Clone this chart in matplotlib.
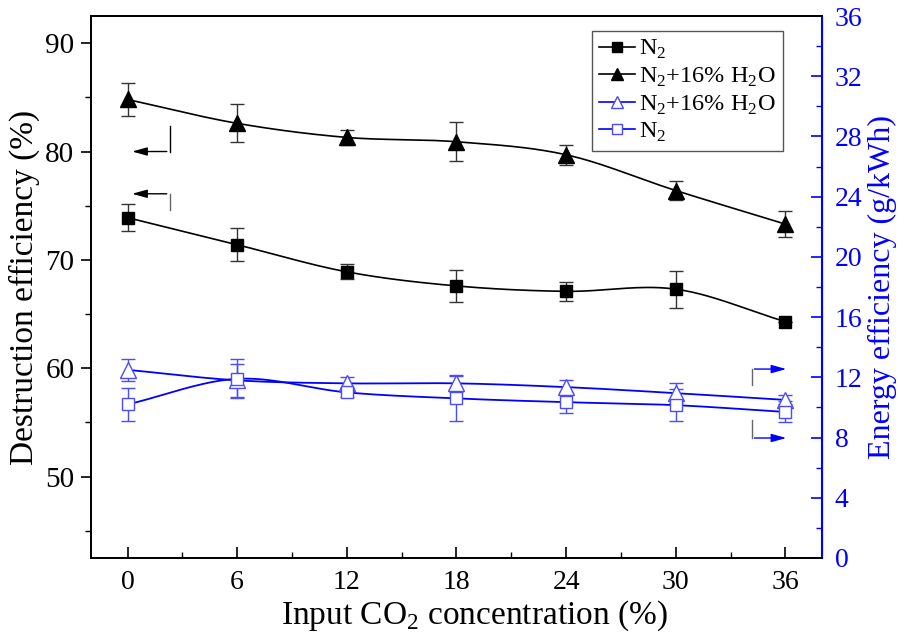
import numpy as np
import matplotlib
matplotlib.use("Agg")
import matplotlib.pyplot as plt
from matplotlib.lines import Line2D

plt.rcParams['font.family'] = ['Liberation Serif', 'DejaVu Serif']
plt.rcParams['mathtext.fontset'] = 'custom'
plt.rcParams['mathtext.rm'] = 'Liberation Serif'

# datos
co2 = [0, 6, 12, 18, 24, 30, 36]

de_n2 = [73.9, 71.4, 68.9, 67.6, 67.1, 67.3, 64.3]
de_n2_err = [1.25, 1.5, 0.7, 1.5, 0.9, 1.7, 0.0]
de_h2o = [84.8, 82.6, 81.3, 80.9, 79.7, 76.4, 73.3]
de_h2o_err = [1.5, 1.75, 0.7, 1.8, 0.9, 0.9, 1.2]

ee_h2o = [12.5, 11.8, 11.6, 11.6, 11.35, 10.95, 10.5]
ee_h2o_err = [0.75, 1.1, 0.4, 0.55, 0.5, 0.65, 0.3]
ee_n2 = [10.2, 11.9, 11.0, 10.6, 10.35, 10.15, 9.7]
ee_n2_err = [1.1, 1.3, 0.3, 1.5, 0.7, 1.05, 0.7]

lab_n2 = r'N$_{\rm 2}$'
lab_h2o = r'N$_{\rm 2}$+16% H$_{\rm 2}$O'


def spline(x, y, n=200):
    # curva suave (tipo Catmull-Rom), solo para dibujar la linea
    x = np.asarray(x, float)
    y = np.asarray(y, float)
    k = len(x)
    d = np.zeros(k)
    d[1:-1] = (y[2:] - y[:-2]) / (x[2:] - x[:-2])
    d[0] = (y[1] - y[0]) / (x[1] - x[0])
    d[-1] = (y[-1] - y[-2]) / (x[-1] - x[-2])
    xs = np.linspace(x[0], x[-1], n)
    idx = np.clip(np.searchsorted(x, xs) - 1, 0, k - 2)
    h = x[idx + 1] - x[idx]
    t = (xs - x[idx]) / h
    h00 = 2 * t**3 - 3 * t**2 + 1
    h10 = t**3 - 2 * t**2 + t
    h01 = -2 * t**3 + 3 * t**2
    h11 = t**3 - t**2
    ys = h00 * y[idx] + h10 * h * d[idx] + h01 * y[idx + 1] + h11 * h * d[idx + 1]
    return xs, ys


fig = plt.figure(figsize=(9.07, 6.41), dpi=100)
ax = fig.add_axes([0.1003, 0.1295, 0.8060, 0.8455])
ax2 = ax.twinx()

blue = '#0000ff'
lblue = '#4a4aff'

# eje izquierdo
for y, e, m in [(de_n2, de_n2_err, 's'), (de_h2o, de_h2o_err, '^')]:
    xs, ys = spline(co2, y)
    ax.plot(xs, ys, color='black', lw=1.2, zorder=2)
    ax.errorbar(co2, y, yerr=e, fmt='none', ecolor='#333333', elinewidth=1.0,
                capsize=5, capthick=1.0, zorder=3)
    ax.plot(co2, y, linestyle='none', marker=m, color='black',
            markersize=11 if m == '^' else 8.5, zorder=4)

# eje derecho
for y, e, m in [(ee_h2o, ee_h2o_err, '^'), (ee_n2, ee_n2_err, 's')]:
    xs, ys = spline(co2, y)
    ax2.plot(xs, ys, color=blue, lw=1.3, zorder=2)
    ax2.errorbar(co2, y, yerr=e, fmt='none', ecolor=lblue, elinewidth=1.0,
                 capsize=5, capthick=1.0, zorder=3)
    ax2.plot(co2, y, linestyle='none', marker=m, markerfacecolor='white',
             markeredgecolor=lblue, markeredgewidth=1.0,
             markersize=11 if m == '^' else 8.5, zorder=4)

# flechas indicando el eje
arr = dict(arrowstyle='-|>,head_length=0.9,head_width=0.25', lw=1.0)
ax.plot([2.3, 2.3], [82.4, 80.0], color='black', lw=1.0)
ax.annotate('', xy=(0.1, 80.0), xytext=(2.3, 80.0),
            arrowprops=dict(color='black', **arr))
ax.plot([2.3, 2.3], [76.1, 74.6], color='#666666', lw=1.0)
ax.annotate('', xy=(0.1, 76.1), xytext=(2.3, 76.1),
            arrowprops=dict(color='black', **arr))
ax2.plot([34.15, 34.15], [12.55, 11.5], color='#666666', lw=1.0)
ax2.annotate('', xy=(36.2, 12.55), xytext=(34.15, 12.55),
             arrowprops=dict(color=blue, **arr))
ax2.plot([34.15, 34.15], [9.16, 7.97], color='#666666', lw=1.0)
ax2.annotate('', xy=(36.2, 7.97), xytext=(34.15, 7.97),
             arrowprops=dict(color=blue, **arr))

ax.set_xlim(-2, 38)
ax.set_ylim(42.5, 92.5)
ax2.set_ylim(0, 36)
ax.set_xticks(co2)
ax.set_xticks(np.arange(3, 36, 6), minor=True)
ax.set_yticks([50, 60, 70, 80, 90])
ax.set_yticks([45, 55, 65, 75, 85], minor=True)
ax2.set_yticks(np.arange(0, 37, 4))
ax2.set_yticks(np.arange(2, 36, 4), minor=True)

ax.tick_params(axis='x', which='both', direction='in', labelsize=20, pad=9)
ax.tick_params(axis='x', which='major', length=8, width=1.2)
ax.tick_params(axis='x', which='minor', length=4, width=1.0)
ax.tick_params(axis='y', which='major', direction='out', length=7, width=1.2,
               labelsize=21, pad=5)
ax.tick_params(axis='y', which='minor', direction='out', length=4, width=1.0)
ax2.tick_params(axis='y', which='major', direction='in', length=8, width=1.2,
                colors=blue, labelsize=20, pad=9)
ax2.tick_params(axis='y', which='minor', direction='in', length=4, width=1.0,
                colors=blue)

for s in ['left', 'top', 'bottom']:
    ax.spines[s].set_linewidth(1.3)
    ax2.spines[s].set_linewidth(1.3)
ax2.spines['right'].set_color(blue)
ax2.spines['right'].set_linewidth(1.5)

ax.set_xlabel(r'Input CO$_{\rm 2}$ concentration (%)', fontsize=24, va='top')
ax.xaxis.set_label_coords(0.525, -0.075, transform=ax.transAxes)
ax.set_ylabel('Destruction efficiency (%)', fontsize=24, labelpad=4)
ax2.set_ylabel('Energy efficiency (g/kWh)', fontsize=23, color=blue, labelpad=4)

handles = [
    Line2D([], [], color='black', marker='s', markersize=7, lw=1.2),
    Line2D([], [], color='black', marker='^', markersize=9, lw=1.2),
    Line2D([], [], color=blue, marker='^', markersize=9, lw=1.2,
           markerfacecolor='white', markeredgecolor=lblue),
    Line2D([], [], color=blue, marker='s', markersize=7, lw=1.2,
           markerfacecolor='white', markeredgecolor=lblue),
]
leg = ax2.legend(handles, [lab_n2, lab_h2o, lab_h2o, lab_n2],
                 loc='upper right', bbox_to_anchor=(0.963, 0.995),
                 fontsize=17.5, handlelength=1.5, handletextpad=0.15,
                 labelspacing=0.18, borderpad=0.3, fancybox=False,
                 framealpha=1, edgecolor='#555555')
leg.get_frame().set_linewidth(1.0)

fig.savefig('out.png', dpi=100)
